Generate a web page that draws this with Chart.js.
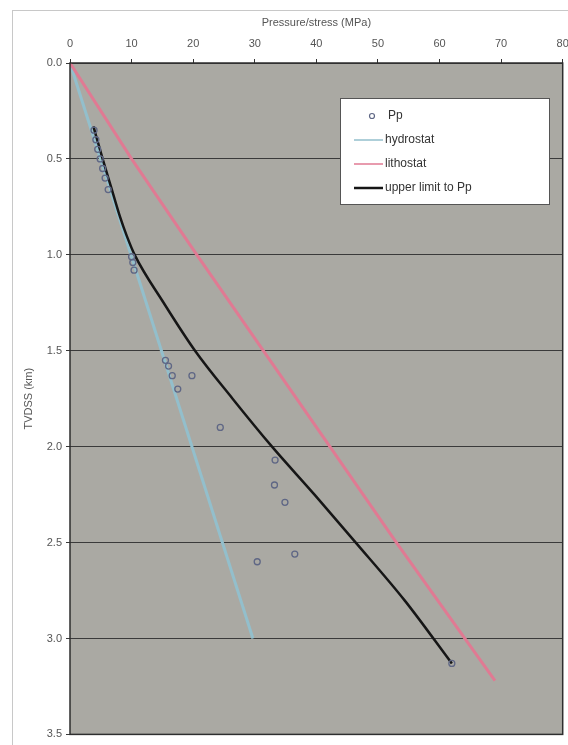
<!DOCTYPE html>
<html>
<head>
<meta charset="utf-8">
<script src="https://cdn.jsdelivr.net/npm/chart.js@4/dist/chart.umd.min.js"></script>
<style>
  html,body{margin:0;padding:0;background:#fff;}
  #wrap{position:relative;width:568px;height:745px;}
</style>
</head>
<body>
<div id="wrap"><canvas id="c" width="568" height="745"></canvas></div>
<script>
/* ---- data (x = MPa, y = TVDSS km) ---- */
const ppPress  = [3.9,4.2,4.5,4.9,5.3,5.7,6.2,10.0,10.2,10.4,15.5,16.0,16.6,17.5,19.8,24.4,33.3,33.2,34.9,36.5,30.4,62.0];
const ppDepth  = [0.35,0.40,0.45,0.50,0.55,0.60,0.66,1.01,1.04,1.08,1.55,1.58,1.63,1.70,1.63,1.90,2.07,2.20,2.29,2.56,2.60,3.13];
const hydroPress = [0, 29.7];
const hydroDepth = [0, 3.0];
const lithoPress = [0, 10.0, 20.6, 42.2, 53.0, 69.0];
const lithoDepth = [0, 0.5, 1.0, 2.0, 2.5, 3.22];
const upperPress = [3.8,5.3,6.7,8.1,9.2,10.5,15.2,20.3,26.4,32.8,39.7,46.4,54.3,62.0];
const upperDepth = [0.33,0.50,0.65,0.80,0.90,1.00,1.25,1.50,1.75,2.00,2.25,2.50,2.80,3.13];
const xTicks = [0,10,20,30,40,50,60,70,80];
const yTicks = [0,0.5,1.0,1.5,2.0,2.5,3.0,3.5];

const pts = (xs,ys)=>xs.map((x,i)=>({x:x,y:ys[i]}));
const FONT = '"Liberation Sans", Arial, sans-serif';

/* plot background, outer frame, plot border, legend box */
const decor = {
  id:'decor',
  beforeDraw(chart){
    const {ctx,chartArea:a} = chart;
    ctx.save();
    ctx.strokeStyle='#c8c8c8'; ctx.lineWidth=1;
    ctx.strokeRect(12.5,10.5,600,800);
    ctx.fillStyle='#aaa9a3';
    ctx.fillRect(a.left,a.top,a.right-a.left,a.bottom-a.top);
    ctx.restore();
  },
  afterDraw(chart){
    const {ctx,chartArea:a} = chart;
    ctx.save();
    ctx.strokeStyle='#2e2e2e'; ctx.lineWidth=1.5;
    ctx.strokeRect(a.left,a.top,a.right-a.left,a.bottom-a.top);
    // legend
    const lx=340, ly=98, lw=209, lh=106;
    ctx.fillStyle='#ffffff'; ctx.fillRect(lx,ly,lw,lh);
    ctx.strokeStyle='#555'; ctx.lineWidth=1; ctx.strokeRect(lx+0.5,ly+0.5,lw,lh);
    ctx.font='12px '+FONT; ctx.fillStyle='#333'; ctx.textBaseline='middle';
    const rows=[0,1,2,3].map(i=>ly+18+i*24);
    chart.data.datasets.forEach((ds,i)=>{
      const y=rows[i];
      if(i===0){
        ctx.beginPath(); ctx.arc(lx+32,y,2.5,0,Math.PI*2);
        ctx.strokeStyle=ds.borderColor; ctx.lineWidth=1.2; ctx.stroke();
        ctx.fillText(ds.label,lx+48,y);
      } else {
        ctx.beginPath(); ctx.moveTo(lx+14,y); ctx.lineTo(lx+43,y);
        ctx.strokeStyle=ds.borderColor; ctx.lineWidth=i===3?2.5:1.5; ctx.stroke();
        ctx.fillText(ds.label,lx+45,y);
      }
    });
    ctx.restore();
  }
};

new Chart(document.getElementById('c'),{
  type:'scatter',
  data:{
    datasets:[
      {label:'Pp', data:pts(ppPress,ppDepth), showLine:false,
       borderColor:'#5f6785', backgroundColor:'rgba(0,0,0,0)', pointRadius:3, borderWidth:1.3, order:0},
      {label:'hydrostat', data:pts(hydroPress,hydroDepth), showLine:true,
       borderColor:'#93bfcc', borderWidth:3, pointRadius:0, order:3},
      {label:'lithostat', data:pts(lithoPress,lithoDepth), showLine:true,
       borderColor:'#e07a93', borderWidth:3, pointRadius:0, order:2},
      {label:'upper limit to Pp', data:pts(upperPress,upperDepth), showLine:true,
       borderColor:'#161616', borderWidth:2.5, pointRadius:0, cubicInterpolationMode:'monotone', order:1}
    ]
  },
  options:{
    responsive:false, animation:false,
    layout:{padding:{left:22,top:16,right:5,bottom:10}},
    plugins:{legend:{display:false}, tooltip:{enabled:false}},
    scales:{
      x:{
        position:'top', type:'linear', min:0, max:80,
        afterBuildTicks:s=>{ s.ticks = xTicks.map(v=>({value:v})); },
        afterFit:s=>{ s.height=47; s.paddingRight=0; s.paddingLeft=0; },
        ticks:{color:'#555', font:{family:FONT,size:11}, padding:8, maxRotation:0},
        grid:{drawOnChartArea:false, tickLength:4, color:'#333'},
        border:{display:false},
        title:{display:true, text:'Pressure/stress (MPa)', color:'#555', font:{family:FONT,size:11}, padding:{top:0,bottom:4}}
      },
      y:{
        type:'linear', reverse:true, min:0, max:3.5,
        afterBuildTicks:s=>{ s.ticks = yTicks.map(v=>({value:v})); },
        afterFit:s=>{ s.width=48; },
        ticks:{color:'#555', font:{family:FONT,size:11}, padding:4, callback:v=>Number(v).toFixed(1)},
        grid:{color:'#3a3a3a', lineWidth:1, tickLength:4},
        border:{display:false},
        title:{display:true, text:'TVDSS (km)', color:'#555', font:{family:FONT,size:11}, padding:{top:0,bottom:0}}
      }
    }
  },
  plugins:[decor]
});
</script>
</body>
</html>
